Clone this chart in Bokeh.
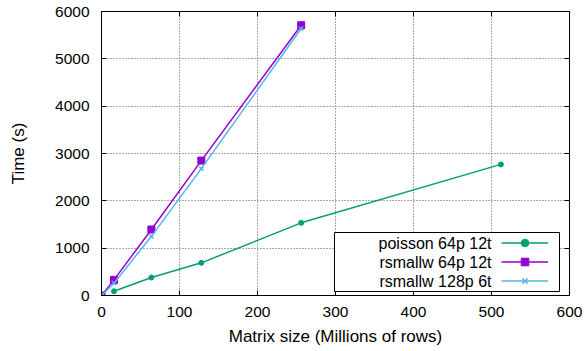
from bokeh.plotting import figure
from bokeh.models import (LinearAxis, FixedTicker, Legend, LegendItem, Label,
                          BoxAnnotation)
from bokeh.embed import file_html
from bokeh.resources import INLINE

# ---- data ----
poisson_x = [16, 64, 128, 256, 512]
poisson_y = [90, 380, 690, 1535, 2770]
rs64_x = [0, 16, 64, 128, 256]
rs64_y = [0, 330, 1395, 2850, 5710]
rs128_x = [0, 16, 64, 128, 256]
rs128_y = [0, 260, 1250, 2680, 5640]
series_names = ["poisson 64p 12t", "rsmallw 64p 12t", "rsmallw 128p 6t"]
x_ticks = [0, 100, 200, 300, 400, 500, 600]
y_ticks = [0, 1000, 2000, 3000, 4000, 5000, 6000]

FONT = "Liberation Sans"
GREEN = "#009e73"
PURPLE = "#9400d3"
BLUE = "#56b4e9"

p = figure(frame_width=468, frame_height=284, x_range=(0, 600), y_range=(0, 6000),
           output_backend="svg", toolbar_location=None,
           min_border_left=101, min_border_right=15, min_border_top=11,
           min_border_bottom=54, x_axis_label="Matrix size (Millions of rows)",
           y_axis_label="Time (s)")
p.background_fill_color = "white"
p.border_fill_color = "white"
p.outline_line_color = "black"
p.outline_line_width = 1
p.outline_line_alpha = 1

for ax in (p.xaxis[0], p.yaxis[0]):
    ax.major_tick_in = 5
    ax.major_tick_out = 0
    ax.minor_tick_line_color = None
    ax.axis_line_color = "black"
    ax.major_tick_line_color = "black"
    ax.major_label_text_font = FONT
    ax.major_label_text_font_size = "15.5px"
    ax.major_label_text_color = "black"
    ax.axis_label_text_font = FONT
    ax.axis_label_text_font_size = "17px"
    ax.axis_label_text_font_style = "normal"
    ax.axis_label_text_color = "black"

p.xaxis[0].ticker = FixedTicker(ticks=x_ticks)
p.yaxis[0].ticker = FixedTicker(ticks=y_ticks)
p.xaxis[0].major_label_standoff = 11
p.xaxis[0].axis_label_standoff = 7
p.yaxis[0].major_label_standoff = 12
p.yaxis[0].axis_label_standoff = 24

# mirror axes (ticks only)
for loc, ticks in (("right", y_ticks), ("above", x_ticks)):
    ax = LinearAxis(ticker=FixedTicker(ticks=ticks))
    ax.major_tick_in = 5
    ax.major_tick_out = 0
    ax.minor_tick_line_color = None
    ax.axis_line_color = "black"
    ax.major_tick_line_color = "black"
    ax.major_label_overrides = {t: "" for t in ticks}
    ax.major_label_text_color = None
    ax.major_label_standoff = 0
    p.add_layout(ax, loc)

p.xgrid.ticker = FixedTicker(ticks=x_ticks)
p.ygrid.ticker = FixedTicker(ticks=y_ticks)
p.grid.grid_line_color = "#555555"
p.grid.grid_line_dash = "1 2"
p.grid.grid_line_width = 1

l1 = p.line(poisson_x, poisson_y, line_color=GREEN, line_width=1.5)
s1 = p.scatter(poisson_x, poisson_y, marker="circle", size=5, color=GREEN)
l2 = p.line(rs64_x, rs64_y, line_color=PURPLE, line_width=1.5)
s2 = p.scatter(rs64_x, rs64_y, marker="square", size=7, color=PURPLE)
l3 = p.line(rs128_x, rs128_y, line_color=BLUE, line_width=1.5)
s3 = p.scatter(rs128_x, rs128_y, marker="x", size=6, line_color=BLUE, line_width=1.5)

# legend box (gnuplot style: text right-aligned, sample on the right)
box = BoxAnnotation(left=233, right=458, top=63, bottom=4,
                    left_units="screen", right_units="screen",
                    top_units="screen", bottom_units="screen",
                    fill_color="white", fill_alpha=1, line_color="black",
                    line_alpha=1, line_width=1)
p.add_layout(box)
for name, yc in zip(series_names, [52.3, 32.7, 14]):
    p.add_layout(Label(x=390, y=yc, x_units="screen", y_units="screen", text=name,
                       text_align="right", text_baseline="middle",
                       text_font=FONT, text_font_size="16px", text_color="black"))

legend = Legend(items=[LegendItem(label=" ", renderers=[l1, s1]),
                       LegendItem(label=" ", renderers=[l2, s2]),
                       LegendItem(label=" ", renderers=[l3, s3])],
                location=(400, 5), padding=0, spacing=0, margin=0,
                glyph_width=47, glyph_height=19, label_height=19, label_width=0,
                label_standoff=0, label_text_font_size="10px",
                label_text_color=None,
                border_line_alpha=0, background_fill_alpha=0)
p.add_layout(legend)

open("out.html", "w").write(file_html(p, INLINE))
